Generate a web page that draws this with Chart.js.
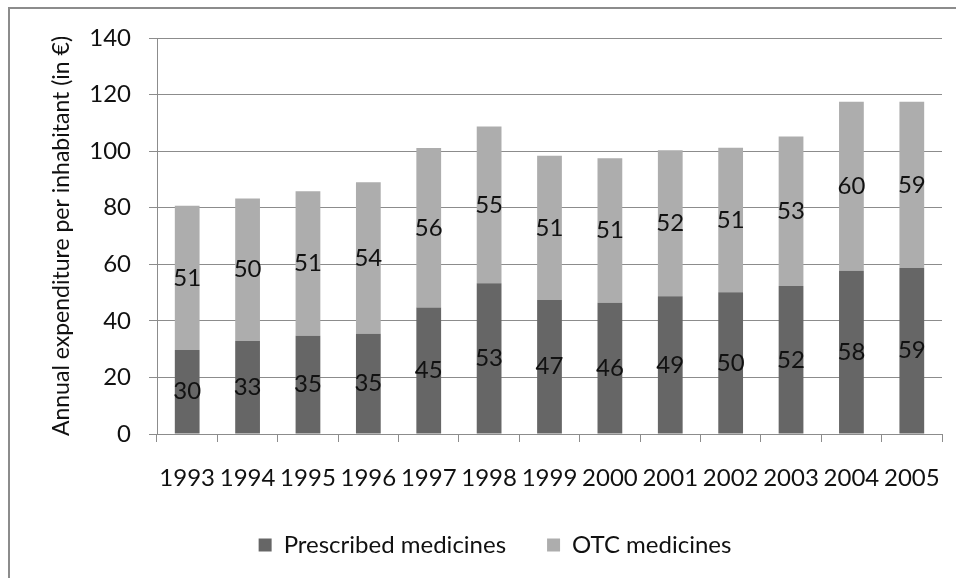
<!DOCTYPE html>
<html>
<head>
<meta charset="utf-8">
<script src="https://cdn.jsdelivr.net/npm/chart.js@4.4.0/dist/chart.umd.min.js"></script>
<style>
  html, body { margin: 0; padding: 0; background: #fff; overflow: hidden; }
  #wrap { position: relative; width: 956px; height: 578px; overflow: hidden; }
  #frame { position: absolute; left: 8px; top: 7px; width: 980px; height: 600px; border: 2px solid #8c8c8c; box-sizing: border-box; }
  canvas { position: absolute; left: 0; top: 0; }
</style>
</head>
<body>
<div id="wrap">
  <div id="frame"></div>
  <canvas id="c" width="956" height="578"></canvas>
</div>
<script>
const years = ['1993','1994','1995','1996','1997','1998','1999','2000','2001','2002','2003','2004','2005'];
const prescribed = [29.7, 32.9, 34.7, 35.4, 44.7, 53.3, 47.4, 46.4, 48.7, 50.1, 52.3, 57.7, 58.7];
const otc = [51.0, 50.4, 51.1, 53.6, 56.4, 55.4, 51.0, 51.1, 51.6, 51.1, 52.9, 59.8, 58.8];
const yTicks = [0, 20, 40, 60, 80, 100, 120, 140];

const FONT = 'Lato, "Open Sans", sans-serif';
const TXT = '#111111';
const GRID = '#8c8c8c';

const centerLabels = {
  id: 'centerLabels',
  afterDatasetsDraw(chart) {
    const ctx = chart.ctx;
    ctx.save();
    ctx.font = '24px ' + FONT;
    ctx.fillStyle = TXT;
    ctx.textAlign = 'center';
    ctx.textBaseline = 'middle';
    chart.data.datasets.forEach((ds, i) => {
      const meta = chart.getDatasetMeta(i);
      meta.data.forEach((el, j) => {
        const p = el.getProps(['x', 'y', 'base'], true);
        ctx.fillText(String(Math.round(ds.data[j])), p.x, (p.y + p.base) / 2);
      });
    });
    ctx.restore();
  }
};

new Chart(document.getElementById('c'), {
  type: 'bar',
  data: {
    labels: years,
    datasets: [
      { label: 'Prescribed medicines', data: prescribed, backgroundColor: '#666666', barPercentage: 0.41, categoryPercentage: 1.0 },
      { label: 'OTC medicines', data: otc, backgroundColor: '#adadad', barPercentage: 0.41, categoryPercentage: 1.0 }
    ]
  },
  options: {
    responsive: false,
    animation: false,
    layout: { padding: { left: 48, right: 14, top: 38, bottom: 11 } },
    plugins: {
      legend: {
        position: 'bottom',
        labels: {
          font: { family: FONT, size: 24 },
          color: TXT,
          boxWidth: 13,
          boxHeight: 13,
          padding: 41
        }
      },
      tooltip: { enabled: false }
    },
    scales: {
      x: {
        stacked: true,
        grid: { drawOnChartArea: false, drawTicks: true, tickLength: 8, color: GRID, offset: true },
        border: { color: GRID },
        ticks: { font: { family: FONT, size: 24 }, color: TXT, padding: 22, maxRotation: 0, autoSkip: false },
        afterFit(s) { s.height = 58; s.paddingLeft = 0; s.paddingRight = 0; }
      },
      y: {
        stacked: true,
        min: 0,
        max: 140,
        afterBuildTicks(s) { s.ticks = yTicks.map(v => ({ value: v })); },
        grid: { color: GRID, tickLength: 8 },
        border: { color: GRID },
        ticks: { font: { family: FONT, size: 24 }, color: TXT, padding: 18 },
        title: {
          display: true,
          text: 'Annual expenditure per inhabitant (in €)',
          font: { family: FONT, size: 23 },
          color: TXT,
          padding: { top: 0, bottom: 0 }
        },
        afterFit(s) { s.width = 109; }
      }
    }
  },
  plugins: [centerLabels]
});
</script>
</body>
</html>
